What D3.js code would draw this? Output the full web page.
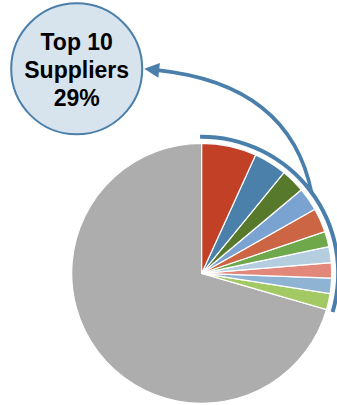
<!DOCTYPE html>
<html>
<head>
<meta charset="utf-8">
<script src="https://cdn.jsdelivr.net/npm/d3@7"></script>
<style>
  html, body { margin: 0; padding: 0; background: #fff; }
  svg { display: block; }
</style>
</head>
<body>
<svg id="chart" width="337" height="405"></svg>
<script>
// top 10 suppliers share (%) read clockwise from 12 o'clock, then the rest
const supplierShares = [6.8, 4.1, 3.0, 2.9, 3.0, 1.9, 2.0, 1.9, 1.9, 2.0];
const otherShare = 70.5;
const sliceColors = ['#c24026', '#4a80aa', '#57792b', '#7ba3d2', '#cb6544',
  '#6fa74b', '#b4cee0', '#e2887a', '#8fb3d2', '#a2c963'];
const otherColor = '#adadad';
const calloutLines = ['Top 10', 'Suppliers', '29%'];

const svg = d3.select('#chart');
const cx = 201.7, cy = 273.3, radius = 130;

const data = supplierShares.map((v, i) => ({ value: v, color: sliceColors[i] }))
  .concat([{ value: otherShare, color: otherColor }]);

const pie = d3.pie().sort(null).value(d => d.value).startAngle(0).endAngle(2 * Math.PI);
const arcs = pie(data);
const arc = d3.arc().innerRadius(0).outerRadius(radius);

const g = svg.append('g').attr('transform', `translate(${cx},${cy})`);

// draw the big grey slice first so the coloured ones sit on top
g.selectAll('.slice')
  .data(arcs.slice().reverse())
  .enter()
  .append('path')
  .attr('class', 'slice')
  .attr('d', arc)
  .attr('fill', d => d.data.color)
  .attr('stroke', '#fff')
  .attr('stroke-width', 1.2);

// bracket arc around the top 10 slices
const topEnd = arcs[supplierShares.length - 1].endAngle;
const bracket = d3.arc()
  .innerRadius(radius + 4.5)
  .outerRadius(radius + 8.5)
  .startAngle(-0.012)
  .endAngle(topEnd + 0.005);
g.append('path').attr('d', bracket()).attr('fill', '#4a7fab');

// callout bubble
const bub = { x: 76.7, y: 68.8, r: 65.5 };
svg.append('circle')
  .attr('cx', bub.x).attr('cy', bub.y).attr('r', bub.r)
  .attr('fill', '#d7e3ed')
  .attr('stroke', '#4a7fab')
  .attr('stroke-width', 2);

svg.append('g').selectAll('text')
  .data(calloutLines)
  .enter()
  .append('text')
  .attr('x', bub.x)
  .attr('y', (d, i) => 49.5 + i * 28.3)
  .attr('text-anchor', 'middle')
  .attr('font-family', '"Liberation Sans", Arial, sans-serif')
  .attr('font-weight', 'bold')
  .attr('font-size', '23px')
  .attr('fill', '#000')
  .text(d => d);

// curved arrow from the bracket to the bubble
const a0 = 54 * Math.PI / 180;
const sx = cx + (radius + 6) * Math.sin(a0), sy = cy - (radius + 6) * Math.cos(a0);
const tip = { x: bub.x + bub.r + 2, y: bub.y };
const ctrl = { x: 290, y: 84 };
const headLen = 15;
const ang = Math.atan2(tip.y - ctrl.y, tip.x - ctrl.x);
const baseX = tip.x - headLen * Math.cos(ang), baseY = tip.y - headLen * Math.sin(ang);

const p = d3.path();
p.moveTo(sx, sy);
p.quadraticCurveTo(ctrl.x, ctrl.y, baseX + 2 * Math.cos(ang), baseY + 2 * Math.sin(ang));
svg.append('path')
  .attr('d', p.toString())
  .attr('fill', 'none')
  .attr('stroke', '#4a7fab')
  .attr('stroke-width', 3.6);

const hw = 7.5;
const head = [
  [tip.x, tip.y],
  [baseX + hw * Math.sin(ang), baseY - hw * Math.cos(ang)],
  [baseX - hw * Math.sin(ang), baseY + hw * Math.cos(ang)]
];
svg.append('path')
  .attr('d', d3.line()(head) + 'Z')
  .attr('fill', '#4a7fab');
</script>
</body>
</html>
